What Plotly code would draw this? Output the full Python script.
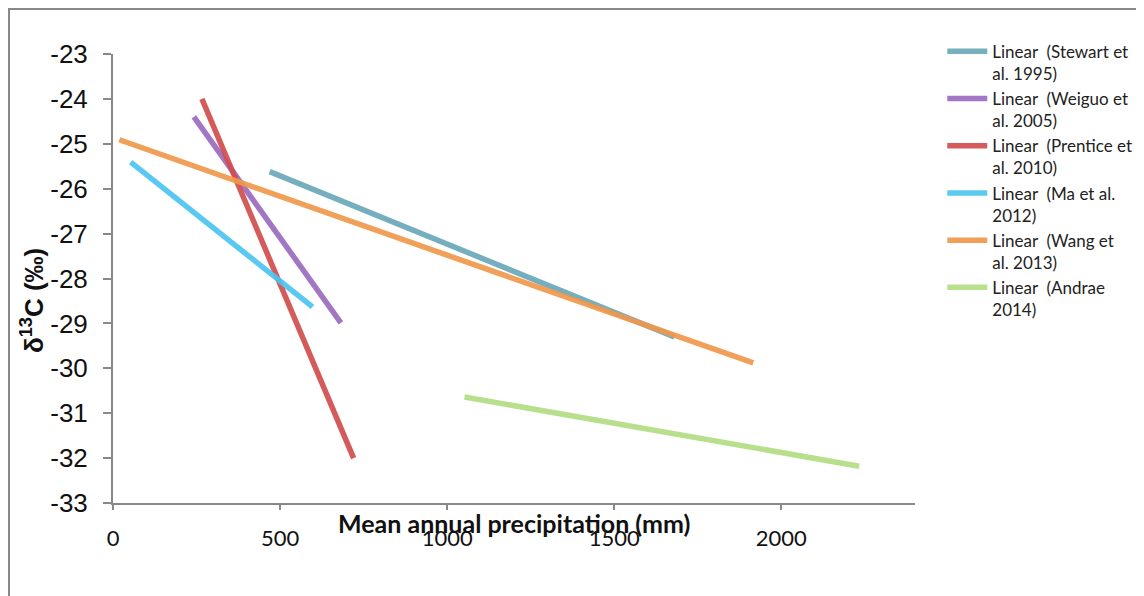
import plotly.graph_objects as go

# Data: endpoints of linear fits (x = mean annual precipitation, mm; y = d13C, permil)
series_names = [
    "Linear  (Stewart et<br>al. 1995)",
    "Linear  (Weiguo et<br>al. 2005)",
    "Linear  (Prentice et<br>al. 2010)",
    "Linear  (Ma et al.<br>2012)",
    "Linear  (Wang et<br>al. 2013)",
    "Linear  (Andrae<br>2014)",
]
stewart_x = [469, 1680]
stewart_y = [-25.62, -29.30]
weiguo_x = [242, 682]
weiguo_y = [-24.40, -28.99]
prentice_x = [266, 720]
prentice_y = [-24.0, -32.0]
ma_x = [53, 597]
ma_y = [-25.41, -28.63]
wang_x = [19, 1916]
wang_y = [-24.91, -29.88]
andrae_x = [1052, 2233]
andrae_y = [-30.64, -32.18]

x_ticks = [0, 500, 1000, 1500, 2000]
y_ticks = [-23, -24, -25, -26, -27, -28, -29, -30, -31, -32, -33]

colors = ["#6aa8b9", "#9a6cc0", "#d24d4d", "#4dc5f0", "#f0984c", "#b3de83"]
xs = [stewart_x, weiguo_x, prentice_x, ma_x, wang_x, andrae_x]
ys = [stewart_y, weiguo_y, prentice_y, ma_y, wang_y, andrae_y]

fig = go.Figure()
for name, x, y, c in zip(series_names, xs, ys, colors):
    fig.add_trace(go.Scatter(x=x, y=y, mode="lines", name=name,
                             line=dict(color=c, width=5.5), opacity=0.92))

fig.update_layout(
    width=1136, height=588,
    margin=dict(l=105, r=229, t=46, b=93, autoexpand=False),
    paper_bgcolor="white", plot_bgcolor="white",
    showlegend=True,
    legend=dict(x=1.034, y=1.045, xanchor="left", yanchor="top",
                font=dict(family="Lato, Open Sans, sans-serif", size=17, color="#222"),
                tracegroupgap=12, valign="top", itemwidth=40,
                bgcolor="rgba(0,0,0,0)"),
    xaxis=dict(range=[0, 2400], tickvals=x_ticks, ticktext=[str(v) for v in x_ticks],
               showgrid=False, zeroline=False, showline=True, linecolor="#888", linewidth=2,
               ticks="outside", ticklen=5, tickcolor="#888", tickwidth=2,
               ticklabelstandoff=10, automargin=False,
               tickfont=dict(family="Lato, Open Sans, sans-serif", size=22, color="#111")),
    yaxis=dict(range=[-33, -23], tickvals=y_ticks, ticktext=[str(v) for v in y_ticks],
               showgrid=False, zeroline=False, showline=True, linecolor="#888", linewidth=2,
               ticks="outside", ticklen=8, tickcolor="#888", tickwidth=2,
               ticklabelstandoff=10, automargin=False,
               tickfont=dict(family="Liberation Sans, Arial, sans-serif", size=26, color="#111")),
)

fig.add_annotation(text="<b>Mean annual precipitation (mm)</b>", xref="paper", yref="paper",
                   x=0.5, y=-0.0445, xanchor="center", yanchor="middle", showarrow=False,
                   font=dict(family="Lato, Open Sans, sans-serif", size=25, color="#111"))
fig.add_annotation(text="<b>δ<sup>13</sup>C (‰)</b>", xref="paper", yref="paper",
                   x=-0.1010, y=0.452, xanchor="center", yanchor="middle", showarrow=False,
                   textangle=-90,
                   font=dict(family="Liberation Sans, Arial, sans-serif", size=26, color="#111"))

fig.add_shape(type="rect", xref="paper", yref="paper",
              x0=-0.1297, x1=1.283, y0=-0.3, y1=1.1002,
              line=dict(color="#888", width=2), fillcolor="rgba(0,0,0,0)", layer="below")

fig.write_html("out.html")
